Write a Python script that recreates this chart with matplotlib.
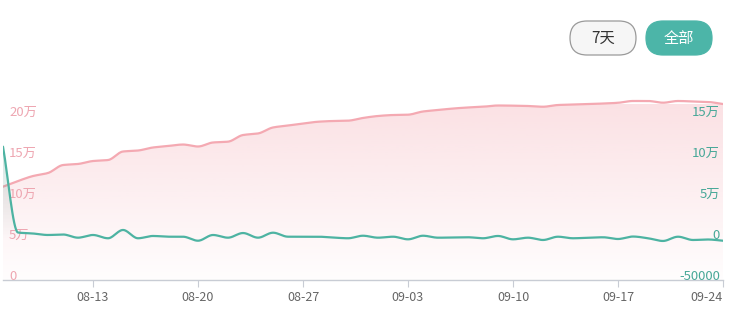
import numpy as np
import pandas as pd
import matplotlib
matplotlib.use("Agg")
import matplotlib.pyplot as plt
from matplotlib.patches import FancyBboxPatch, Polygon

plt.rcParams["font.family"] = ["Noto Sans CJK SC", "DejaVu Sans"]

# daily values, 08-07 .. 09-24
dates = pd.date_range("2023-08-07", "2023-09-24", freq="D")
pink_values = [
    113800, 120700, 126800, 130500, 140200, 141500, 145100, 146300, 156700, 157900,
    161600, 163400, 165200, 162800, 167700, 168700, 176800, 178700, 186000, 188400,
    190800, 193000, 193900, 194300, 197600, 200000, 201200, 201600, 205500, 207300,
    209100, 210400, 211300, 212800, 212600, 212200, 211300, 213400, 214000, 214600,
    215200, 216100, 218300, 218300, 216200, 218300, 217700, 217100, 214600,
]
green_values = [
    112600, 7900, 6700, 4900, 5500, 1600, 4900, 900, 11000, 900,
    3700, 2800, 2800, -2100, 4900, 1600, 7300, 1600, 7700, 2800,
    2800, 2800, 1800, 900, 4000, 1600, 2800, -400, 4000, 1600,
    1800, 2100, 900, 3700, -400, 1600, -1200, 2800, 900, 1600,
    2100, 0, 3000, 900, -2400, 2800, -1200, -600, -2100,
]
left_ticks = [0, 50000, 100000, 150000, 200000]
left_labels = ["0", "5万", "10万", "15万", "20万"]
right_ticks = [-50000, 0, 50000, 100000, 150000]
right_labels = ["-50000", "0", "5万", "10万", "15万"]
xtick_labels = ["08-13", "08-20", "08-27", "09-03", "09-10", "09-17", "09-24"]

PINK = "#f4a9b2"
PINK_TEXT = "#eea6b1"
TEAL = "#4db3a2"
TEAL_TEXT = "#48a898"
BTN_TEAL = "#4cb5a8"

W, H = 736, 322
AX_L, AX_R, AX_T, AX_B = 3, 723, 95, 280


def pchip(x, y, n=16):
    x = np.asarray(x, float)
    y = np.asarray(y, float)
    h = np.diff(x)
    d = np.diff(y) / h
    m = np.zeros_like(y)
    for i in range(1, len(y) - 1):
        if d[i - 1] * d[i] > 0:
            w1 = 2 * h[i] + h[i - 1]
            w2 = h[i] + 2 * h[i - 1]
            m[i] = (w1 + w2) / (w1 / d[i - 1] + w2 / d[i])
    m[0] = d[0]
    m[-1] = d[-1]
    xs, ys = [], []
    for i in range(len(x) - 1):
        t = np.linspace(0, 1, n, endpoint=False)
        h00 = 2 * t**3 - 3 * t**2 + 1
        h10 = t**3 - 2 * t**2 + t
        h01 = -2 * t**3 + 3 * t**2
        h11 = t**3 - t**2
        xs.append(x[i] + t * h[i])
        ys.append(h00 * y[i] + h10 * h[i] * m[i] + h01 * y[i + 1] + h11 * h[i] * m[i + 1])
    xs.append([x[-1]])
    ys.append([y[-1]])
    return np.concatenate(xs), np.concatenate(ys)


def gradient_fill(ax, xs, ys, base, color, a_top, a_bot, y_top):
    verts = np.column_stack([np.r_[xs, xs[-1], xs[0]], np.r_[ys, base, base]])
    poly = Polygon(verts, closed=True, facecolor="none", edgecolor="none")
    ax.add_patch(poly)
    rgb = matplotlib.colors.to_rgb(color)
    grad = np.zeros((256, 1, 4))
    grad[:, 0, :3] = rgb
    grad[:, 0, 3] = np.linspace(a_top, a_bot, 256)
    im = ax.imshow(grad, aspect="auto", extent=[xs[0], xs[-1], base, y_top],
                   origin="upper", zorder=1)
    im.set_clip_path(poly)


x = (dates - dates[0]).days.values.astype(float)
scale = 50000 / 41.0  # value per pixel
left_top = (AX_B - AX_T) * scale

fig = plt.figure(figsize=(W / 100, H / 100), dpi=100)
ax = fig.add_axes([AX_L / W, (H - AX_B) / H, (AX_R - AX_L) / W, (AX_B - AX_T) / H])
ax2 = ax.twinx()

ax.set_xlim(x[0], x[-1])
ax.set_ylim(0, left_top)
ax2.set_ylim(-50000, left_top - 50000)

px, py = pchip(x, pink_values)
gradient_fill(ax, px, py, 0, "#f4a9b2", 0.35, 0.02, left_top * 0.95)
ax.plot(px, py, color=PINK, lw=1.6, zorder=3, solid_capstyle="round")

gx, gy = pchip(x, green_values)
gradient_fill(ax2, gx, gy, 0, "#5a9a90", 0.28, 0.0, max(green_values))
ax2.plot(gx, gy, color=TEAL, lw=1.6, zorder=3, solid_capstyle="round")

for a in (ax, ax2):
    for s in a.spines.values():
        s.set_visible(False)
    a.set_yticks([])
ax.spines["bottom"].set_visible(True)
ax.spines["bottom"].set_color("#c8ccd4")
ax.spines["bottom"].set_linewidth(1.0)

tick_pos = [x[list(dates.strftime("%m-%d")).index(lbl)] for lbl in xtick_labels]
ax.set_xticks(tick_pos)
ax.set_xticklabels(xtick_labels, fontsize=9, color="#666666")
ax.get_xticklabels()[-1].set_horizontalalignment("right")
ax.tick_params(axis="x", length=5, width=0.8, color="#c8ccd4", pad=3)

for v, lbl in zip(left_ticks, left_labels):
    ax.text(6 / (AX_R - AX_L), v, lbl, transform=ax.get_yaxis_transform(), ha="left",
            va="baseline", fontsize=9.5, color=PINK_TEXT, zorder=5)
for v, lbl in zip(right_ticks, right_labels):
    ax2.text(1 - 3 / (AX_R - AX_L), v, lbl, transform=ax2.get_yaxis_transform(), ha="right",
             va="baseline", fontsize=9.5, color=TEAL_TEXT, zorder=5)

# buttons
bx = fig.add_axes([0, 0, 1, 1], zorder=10)
bx.set_xlim(0, W)
bx.set_ylim(H, 0)
bx.axis("off")
bx.patch.set_alpha(0)
bx.add_patch(FancyBboxPatch((570, 21), 66, 34, boxstyle="round,pad=0,rounding_size=17",
                            facecolor="#f6f6f6", edgecolor="#9a9a9a", lw=0.9))
bx.text(603, 38.5, "7天", ha="center", va="center", fontsize=11, color="#333333")
bx.add_patch(FancyBboxPatch((646, 21), 66, 34, boxstyle="round,pad=0,rounding_size=17",
                            facecolor=BTN_TEAL, edgecolor=BTN_TEAL, lw=0.9))
bx.text(679, 38.5, "全部", ha="center", va="center", fontsize=11, color="white")

fig.savefig("out.png", dpi=100)
